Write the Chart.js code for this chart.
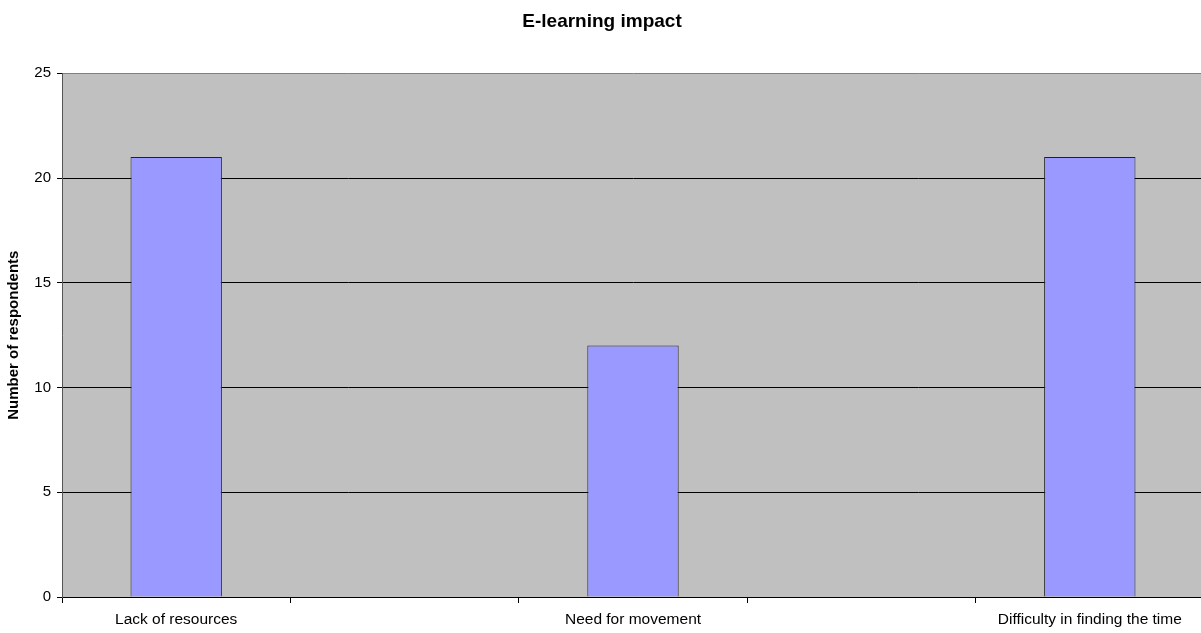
<!DOCTYPE html>
<html>
<head>
<meta charset="utf-8">
<script src="https://cdn.jsdelivr.net/npm/chart.js@4/dist/chart.umd.min.js"></script>
<style>
  html, body { margin: 0; padding: 0; background: #ffffff; overflow: hidden; }
  #wrap { width: 1204px; height: 633px; }
</style>
</head>
<body>
<div id="wrap"><canvas id="c" width="1204" height="633"></canvas></div>
<script>
const chartTitle = "E-learning impact";
const yAxisTitle = "Number of respondents";
const categories = ["Lack of resources", "", "Need for movement", "", "Difficulty in finding the time"];
const respondents = [21, null, 12, null, 21];
const yTicks = [0, 5, 10, 15, 20, 25];

const plotBg = {
  id: 'plotBg',
  beforeDraw(chart) {
    const { ctx, chartArea: a } = chart;
    ctx.save();
    ctx.fillStyle = '#C0C0C0';
    ctx.fillRect(a.left, a.top, a.right - a.left, a.bottom - a.top);
    ctx.restore();
  }
};

new Chart(document.getElementById('c'), {
  type: 'bar',
  data: {
    labels: categories,
    datasets: [{
      data: respondents,
      backgroundColor: '#9999FF',
      borderColor: '#222222',
      borderWidth: 1,
      categoryPercentage: 1.0,
      barPercentage: 0.4
    }]
  },
  options: {
    responsive: false,
    devicePixelRatio: 1,
    animation: false,
    layout: { padding: { left: 0, right: 0, top: 0, bottom: 0 } },
    plugins: {
      legend: { display: false },
      tooltip: { enabled: false },
      title: {
        display: true,
        text: chartTitle,
        color: '#000000',
        font: { family: 'Liberation Sans, Arial, sans-serif', size: 19, weight: 'bold' },
        padding: { top: 10, bottom: 40.5 }
      }
    },
    scales: {
      x: {
        offset: true,
        grid: {
          offset: true,
          drawOnChartArea: false,
          drawTicks: true,
          tickLength: 6,
          color: '#000000'
        },
        border: { display: true, color: '#000000', width: 1 },
        ticks: {
          color: '#000000',
          font: { family: 'Liberation Sans, Arial, sans-serif', size: 15.5 },
          padding: 7,
          maxRotation: 0,
          autoSkip: false
        },
        afterFit(scale) { scale.height = 36; }
      },
      y: {
        min: 0,
        max: 25,
        afterBuildTicks(scale) { scale.ticks = yTicks.map(v => ({ value: v })); },
        grid: {
          color: (ctx) => (ctx.tick && ctx.tick.value === 25) ? '#808080' : '#000000',
          lineWidth: 1,
          tickLength: 5,
          tickColor: '#000000'
        },
        border: { display: true, color: '#555555', width: 1 },
        ticks: {
          color: '#000000',
          font: { family: 'Liberation Sans, Arial, sans-serif', size: 15 },
          padding: 6
        },
        title: {
          display: true,
          text: yAxisTitle,
          color: '#000000',
          font: { family: 'Liberation Sans, Arial, sans-serif', size: 15, weight: 'bold' },
          padding: { top: 5, bottom: 0 }
        },
        afterFit(scale) { scale.width = 62; }
      }
    }
  },
  plugins: [plotBg]
});
</script>
</body>
</html>
